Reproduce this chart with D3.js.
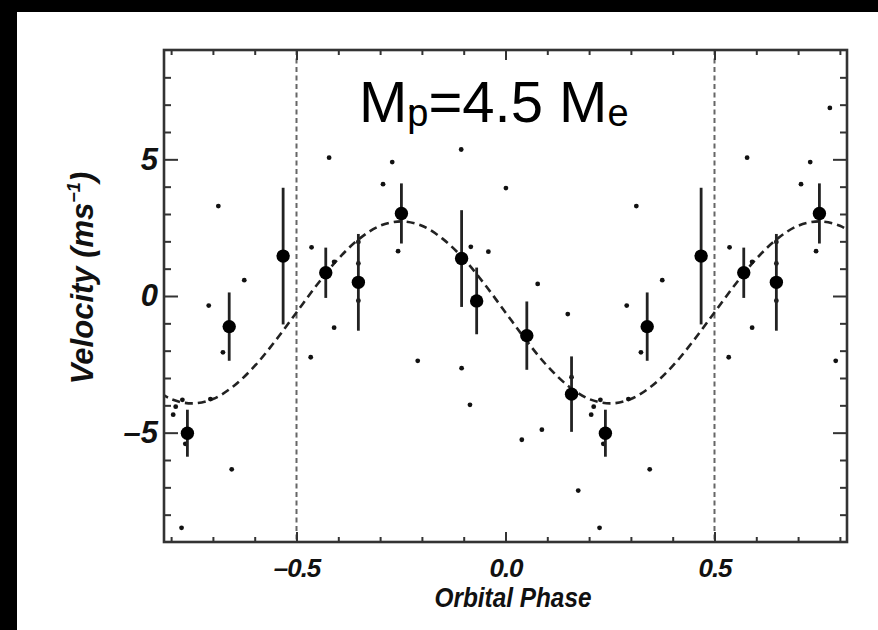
<!DOCTYPE html>
<html>
<head>
<meta charset="utf-8">
<script src="https://cdn.jsdelivr.net/npm/d3@7"></script>
<style>
  html, body { margin: 0; padding: 0; background: #000; }
  svg { display: block; }
  text { font-family: "Liberation Sans", Arial, Helvetica, sans-serif; }
</style>
</head>
<body>
<div id="chart"></div>
<script>
// binned velocities (big dots), one orbital period
var binPhase = [-0.430, -0.352, -0.249, -0.105, -0.069, 0.051, 0.158, 0.239, 0.339, 0.468];
var binVel   = [0.85, 0.50, 3.02, 1.37, -0.18, -1.45, -3.59, -5.02, -1.12, 1.46];
var binErr   = [0.92, 1.77, 1.10, 1.77, 1.22, 1.25, 1.38, 0.86, 1.25, 2.50];

// individual measurements (small dots), one orbital period
var rawPhase = [-0.466, -0.464, -0.422, -0.410, -0.410, -0.352, -0.352, -0.352,
                -0.293, -0.271, -0.257, -0.224, -0.210, -0.106, -0.105, -0.085,
                -0.083, -0.041, 0.001, 0.039, 0.077, 0.087, 0.149, 0.158,
                0.174, 0.205, 0.211, 0.225, 0.227, 0.234, 0.290, 0.294,
                0.313, 0.324, 0.345, 0.375];
var rawVel   = [-2.24, 1.78, 5.06, -1.16, 1.25, 1.98, 1.19, -0.17,
                4.09, 4.90, 1.64, 6.88, -2.37, 5.36, -2.64, -3.98,
                1.80, 1.62, 3.95, -5.26, 0.44, -4.89, -0.66, -2.97,
                -7.12, -4.34, -4.05, -8.48, -3.80, -5.41, -0.35, -3.77,
                3.29, -2.06, -6.34, 0.58];

// fitted orbit (dashed curve)
var curvePhase = [-0.85, -0.80, -0.75, -0.70, -0.65, -0.60, -0.55, -0.50, -0.45, -0.40,
                  -0.35, -0.30, -0.25, -0.20, -0.15, -0.10, -0.05, 0.00, 0.05, 0.10,
                  0.15, 0.20, 0.25, 0.30, 0.35, 0.40, 0.45, 0.50, 0.55, 0.60,
                  0.65, 0.70, 0.75, 0.80, 0.85];
var curveVel   = [-3.29, -3.77, -3.93, -3.77, -3.29, -2.56, -1.63, -0.60, 0.43, 1.36,
                  2.09, 2.57, 2.73, 2.57, 2.09, 1.36, 0.43, -0.60, -1.63, -2.56,
                  -3.29, -3.77, -3.93, -3.77, -3.29, -2.56, -1.63, -0.60, 0.43, 1.36,
                  2.09, 2.57, 2.73, 2.57, 2.09];

var boundaryPhases = [-0.5, 0.5];
var xMinor = [-0.8, -0.7, -0.6, -0.4, -0.3, -0.2, -0.1, 0.1, 0.2, 0.3, 0.4, 0.6, 0.7, 0.8];
var xMajor = [-0.5, 0.0, 0.5];
var xTickLabels = ["\u20130.5", "0.0", "0.5"];
var yMinor = [-8, -7, -6, -4, -3, -2, -1, 1, 2, 3, 4, 6, 7, 8];
var yMajor = [-5, 0, 5];
var yTickLabels = ["\u20135", "0", "5"];

var W = 878, H = 630;
var pL = 164, pR = 847, pT = 50, pB = 542;

var svg = d3.select("#chart").append("svg")
  .attr("width", W).attr("height", H);

svg.append("rect").attr("width", W).attr("height", H).attr("fill", "#000");
svg.append("rect").attr("x", 17).attr("y", 12)
  .attr("width", W - 17).attr("height", H - 12).attr("fill", "#fff");

var x = d3.scaleLinear().domain([-0.817, 0.817]).range([pL, pR]);
var y = d3.scaleLinear().domain([-9, 9]).range([pB, pT]);

svg.append("clipPath").attr("id", "clip")
  .append("rect").attr("x", pL).attr("y", pT)
  .attr("width", pR - pL).attr("height", pB - pT);

var plot = svg.append("g").attr("clip-path", "url(#clip)");

// repeat a phase-folded point one period either side
function copies(p) {
  return [p - 1, p, p + 1].filter(function(q) { return q >= -0.817 && q <= 0.817; });
}

// dashed lines at +-0.5
plot.selectAll("line.bound")
  .data(boundaryPhases)
  .enter().append("line")
  .attr("class", "bound")
  .attr("x1", function(d) { return x(d); })
  .attr("x2", function(d) { return x(d); })
  .attr("y1", pT).attr("y2", pB)
  .attr("stroke", "#666").attr("stroke-width", 2)
  .attr("stroke-dasharray", "5,3.5");

// fitted curve
var curveData = curvePhase.map(function(p, i) { return [p, curveVel[i]]; });
plot.append("path")
  .datum(curveData)
  .attr("d", d3.line()
    .x(function(d) { return x(d[0]); })
    .y(function(d) { return y(d[1]); })
    .curve(d3.curveCatmullRom))
  .attr("fill", "none")
  .attr("stroke", "#222").attr("stroke-width", 2.6)
  .attr("stroke-dasharray", "8,5");

// small dots
var rawPts = [];
rawPhase.forEach(function(p, i) {
  copies(p).forEach(function(q) { rawPts.push({ p: q, v: rawVel[i] }); });
});
plot.selectAll("circle.raw")
  .data(rawPts)
  .enter().append("circle")
  .attr("class", "raw")
  .attr("cx", function(d) { return x(d.p); })
  .attr("cy", function(d) { return y(d.v); })
  .attr("r", 2.4)
  .attr("fill", "#111");

// binned points with error bars
var binPts = [];
binPhase.forEach(function(p, i) {
  copies(p).forEach(function(q) { binPts.push({ p: q, v: binVel[i], e: binErr[i] }); });
});
plot.selectAll("line.err")
  .data(binPts)
  .enter().append("line")
  .attr("class", "err")
  .attr("x1", function(d) { return x(d.p); })
  .attr("x2", function(d) { return x(d.p); })
  .attr("y1", function(d) { return y(d.v + d.e); })
  .attr("y2", function(d) { return y(d.v - d.e); })
  .attr("stroke", "#222").attr("stroke-width", 2.8);
plot.selectAll("circle.bin")
  .data(binPts)
  .enter().append("circle")
  .attr("class", "bin")
  .attr("cx", function(d) { return x(d.p); })
  .attr("cy", function(d) { return y(d.v); })
  .attr("r", 6.7)
  .attr("fill", "#000");

// axes: ticks on all four sides, pointing inward
function styleAxis(g) {
  g.select(".domain").remove();
  g.selectAll(".tick line").attr("stroke", "#333").attr("stroke-width", 2);
}

svg.append("g").attr("transform", "translate(0," + pB + ")")
  .call(d3.axisBottom(x).tickValues(xMinor).tickSize(-5).tickFormat(""))
  .call(styleAxis);
var xb = svg.append("g").attr("transform", "translate(0," + pB + ")")
  .call(d3.axisBottom(x).tickValues(xMajor).tickSize(-10).tickPadding(17)
    .tickFormat(function(d, i) { return xTickLabels[i]; }))
  .call(styleAxis);
xb.selectAll("text")
  .attr("font-family", "'Liberation Sans', Arial, sans-serif")
  .attr("font-size", 26).attr("font-weight", "bold").attr("font-style", "italic")
  .attr("letter-spacing", -1)
  .attr("fill", "#111");

svg.append("g").attr("transform", "translate(0," + pT + ")")
  .call(d3.axisTop(x).tickValues(xMinor).tickSize(-5).tickFormat(""))
  .call(styleAxis);
svg.append("g").attr("transform", "translate(0," + pT + ")")
  .call(d3.axisTop(x).tickValues(xMajor).tickSize(-10).tickFormat(""))
  .call(styleAxis);

svg.append("g").attr("transform", "translate(" + pL + ",0)")
  .call(d3.axisLeft(y).tickValues(yMinor).tickSize(-7).tickFormat(""))
  .call(styleAxis);
var yl = svg.append("g").attr("transform", "translate(" + pL + ",0)")
  .call(d3.axisLeft(y).tickValues(yMajor).tickSize(-14).tickPadding(6)
    .tickFormat(function(d, i) { return yTickLabels[i]; }))
  .call(styleAxis);
yl.selectAll("text")
  .attr("font-family", "'Liberation Sans', Arial, sans-serif")
  .attr("font-size", 31).attr("font-weight", "bold").attr("font-style", "italic")
  .attr("fill", "#111");

svg.append("g").attr("transform", "translate(" + pR + ",0)")
  .call(d3.axisRight(y).tickValues(yMinor).tickSize(-7).tickFormat(""))
  .call(styleAxis);
svg.append("g").attr("transform", "translate(" + pR + ",0)")
  .call(d3.axisRight(y).tickValues(yMajor).tickSize(-14).tickFormat(""))
  .call(styleAxis);

// frame
svg.append("rect")
  .attr("x", pL).attr("y", pT)
  .attr("width", pR - pL).attr("height", pB - pT)
  .attr("fill", "none").attr("stroke", "#333").attr("stroke-width", 2.6);

// title
var title = svg.append("text")
  .attr("x", 359).attr("y", 122)
  .attr("font-size", 58).attr("fill", "#000");
title.append("tspan").text("M");
title.append("tspan").attr("font-size", 38).attr("dy", 4).text("p");
title.append("tspan").attr("dy", -4).text("=4.5 M");
title.append("tspan").attr("font-size", 38).attr("dy", 4).text("e");

// x label
svg.append("text")
  .attr("x", 513).attr("y", 607)
  .attr("text-anchor", "middle")
  .attr("font-size", 27).attr("font-weight", "bold").attr("font-style", "italic")
  .attr("textLength", 157).attr("lengthAdjust", "spacingAndGlyphs")
  .attr("fill", "#111")
  .text("Orbital Phase");

// y label
var ylab = svg.append("text")
  .attr("transform", "translate(93,278) rotate(-90)")
  .attr("text-anchor", "middle")
  .attr("font-size", 31).attr("font-weight", "bold").attr("font-style", "italic")
  .attr("fill", "#111");
ylab.append("tspan").text("Velocity (ms");
ylab.append("tspan").attr("font-size", 18).attr("dy", -13).text("\u22121");
ylab.append("tspan").attr("dy", 13).text(")");
</script>
</body>
</html>
